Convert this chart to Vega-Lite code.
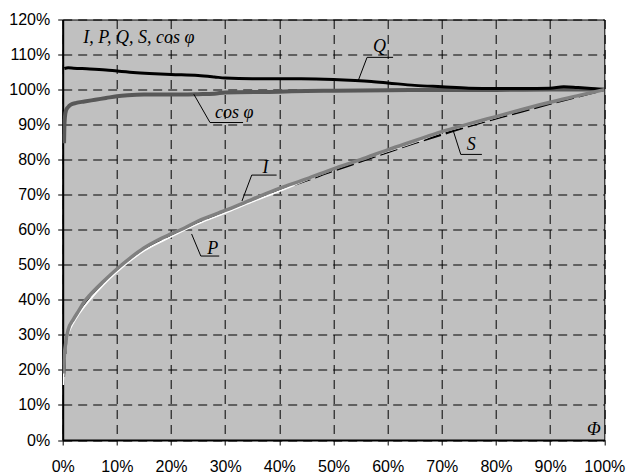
{
  "$schema": "https://vega.github.io/schema/vega-lite/v6.json",
  "autosize": {"type": "none"},
  "width": 541.6,
  "height": 420.5,
  "padding": {"left": 62.7, "top": 19.5, "right": 23.7, "bottom": 34},
  "config": {
    "view": {"fill": "#c0c0c0", "stroke": "#000000", "strokeWidth": 1},
    "axis": {
      "domainColor": "#000000", "domainWidth": 2,
      "tickColor": "#000000", "tickSize": 5, "tickWidth": 1,
      "gridColor": "#000000", "gridDash": [9, 6], "gridWidth": 1, "gridOpacity": 1,
      "labelFont": "Liberation Sans", "labelFontSize": 16, "labelColor": "#000000",
      "title": null
    }
  },
  "datasets": {
    "q": [
      {"x": 0.3, "y": 106.0}, {"x": 1, "y": 106.2}, {"x": 2, "y": 106.1}, {"x": 5, "y": 105.9},
      {"x": 8, "y": 105.6}, {"x": 10, "y": 105.3}, {"x": 13, "y": 104.9}, {"x": 16, "y": 104.6},
      {"x": 20, "y": 104.3}, {"x": 25, "y": 104.0}, {"x": 28, "y": 103.6}, {"x": 30, "y": 103.3},
      {"x": 35, "y": 103.1}, {"x": 40, "y": 103.1}, {"x": 44, "y": 103.1}, {"x": 50, "y": 102.9},
      {"x": 54, "y": 102.6}, {"x": 57, "y": 102.3}, {"x": 60, "y": 101.9}, {"x": 65, "y": 101.2},
      {"x": 70, "y": 100.8}, {"x": 75, "y": 100.4}, {"x": 80, "y": 100.3}, {"x": 85, "y": 100.3},
      {"x": 90, "y": 100.4}, {"x": 92.5, "y": 100.8}, {"x": 95, "y": 100.6}, {"x": 97, "y": 100.4},
      {"x": 100, "y": 100.0}
    ],
    "cos": [
      {"x": 0.25, "y": 84.7}, {"x": 0.3, "y": 89.0}, {"x": 0.4, "y": 92.0}, {"x": 0.6, "y": 94.0},
      {"x": 1, "y": 95.0}, {"x": 1.5, "y": 95.7}, {"x": 2.5, "y": 96.2}, {"x": 4, "y": 96.6},
      {"x": 6, "y": 97.1}, {"x": 8, "y": 97.6}, {"x": 10, "y": 98.1}, {"x": 12, "y": 98.4},
      {"x": 15, "y": 98.6}, {"x": 20, "y": 98.6}, {"x": 25, "y": 98.7}, {"x": 28, "y": 98.8},
      {"x": 30, "y": 99.2}, {"x": 40, "y": 99.4}, {"x": 45, "y": 99.6}, {"x": 50, "y": 99.7},
      {"x": 60, "y": 99.8}, {"x": 70, "y": 99.9}, {"x": 80, "y": 99.9}, {"x": 90, "y": 100.0},
      {"x": 100, "y": 100.0}
    ],
    "i": [
      {"x": 0.2, "y": 19.0}, {"x": 0.3, "y": 24.0}, {"x": 0.5, "y": 27.0}, {"x": 1, "y": 31.4},
      {"x": 2, "y": 34.5}, {"x": 3, "y": 37.0}, {"x": 4, "y": 39.5}, {"x": 5, "y": 41.3},
      {"x": 7.5, "y": 45.2}, {"x": 10, "y": 48.8}, {"x": 12.5, "y": 52.0}, {"x": 15, "y": 54.8},
      {"x": 17.5, "y": 57.0}, {"x": 20, "y": 58.8}, {"x": 22.5, "y": 60.5}, {"x": 25, "y": 62.5},
      {"x": 30, "y": 65.5}, {"x": 35, "y": 68.7}, {"x": 40, "y": 71.8}, {"x": 45, "y": 74.5},
      {"x": 50, "y": 77.4}, {"x": 55, "y": 80.0}, {"x": 60, "y": 82.8}, {"x": 65, "y": 85.4},
      {"x": 70, "y": 88.0}, {"x": 75, "y": 90.2}, {"x": 80, "y": 92.3}, {"x": 85, "y": 94.4},
      {"x": 90, "y": 96.4}, {"x": 95, "y": 98.2}, {"x": 100, "y": 100.0}
    ],
    "p": [
      {"x": 0.1, "y": 15.7}, {"x": 0.3, "y": 22.0}, {"x": 0.6, "y": 27.0}, {"x": 1, "y": 30.0},
      {"x": 2, "y": 33.5}, {"x": 3, "y": 36.0}, {"x": 5, "y": 40.0}, {"x": 7.5, "y": 44.3},
      {"x": 10, "y": 48.0}, {"x": 15, "y": 54.0}, {"x": 20, "y": 58.0}, {"x": 25, "y": 61.7},
      {"x": 30, "y": 64.8}, {"x": 35, "y": 68.0}, {"x": 40, "y": 71.0}, {"x": 45, "y": 74.2},
      {"x": 50, "y": 77.2}, {"x": 55, "y": 79.9}, {"x": 60, "y": 82.4}, {"x": 65, "y": 85.0},
      {"x": 70, "y": 87.8}, {"x": 75, "y": 89.9}, {"x": 80, "y": 92.1}, {"x": 85, "y": 94.3},
      {"x": 90, "y": 96.4}, {"x": 95, "y": 98.2}, {"x": 100, "y": 100.0}
    ],
    "s": [
      {"x": 0.2, "y": 18.0}, {"x": 0.5, "y": 26.0}, {"x": 1, "y": 31.0}, {"x": 2, "y": 34.3},
      {"x": 3, "y": 36.8}, {"x": 5, "y": 41.0}, {"x": 10, "y": 48.5}, {"x": 15, "y": 54.5},
      {"x": 20, "y": 58.5}, {"x": 25, "y": 62.2}, {"x": 30, "y": 65.3}, {"x": 35, "y": 68.4},
      {"x": 40, "y": 71.4}, {"x": 45, "y": 74.1}, {"x": 50, "y": 76.9}, {"x": 55, "y": 79.5},
      {"x": 60, "y": 82.2}, {"x": 65, "y": 84.8}, {"x": 70, "y": 87.2}, {"x": 75, "y": 89.6},
      {"x": 80, "y": 91.8}, {"x": 85, "y": 93.9}, {"x": 90, "y": 96.0}, {"x": 95, "y": 98.0},
      {"x": 100, "y": 100.0}
    ],
    "labels": [
      {"x": 3.8, "y": 113.2, "text": "I, P, Q, S, cos φ"},
      {"x": 57.3, "y": 110.8, "text": "Q"},
      {"x": 28.1, "y": 91.9, "text": "cos φ"},
      {"x": 36.9, "y": 76.3, "text": "I"},
      {"x": 26.7, "y": 53.2, "text": "P"},
      {"x": 74.6, "y": 82.8, "text": "S"},
      {"x": 96.8, "y": 1.4, "text": "Φ"}
    ],
    "leaders": [
      {"x": 54.6, "y": 102.7, "x2": 56.2, "y2": 109.2},
      {"x": 56.2, "y": 109.2, "x2": 61.0, "y2": 109.2},
      {"x": 24.2, "y": 98.7, "x2": 27.2, "y2": 90.6},
      {"x": 27.2, "y": 90.6, "x2": 33.3, "y2": 90.6},
      {"x": 72.1, "y": 88.3, "x2": 73.5, "y2": 81.5},
      {"x": 73.5, "y": 81.5, "x2": 77.4, "y2": 81.5},
      {"x": 33.1, "y": 68.2, "x2": 34.9, "y2": 75.6},
      {"x": 34.9, "y": 75.6, "x2": 39.5, "y2": 75.6},
      {"x": 23.8, "y": 58.8, "x2": 25.5, "y2": 52.5},
      {"x": 25.5, "y": 52.5, "x2": 28.9, "y2": 52.5}
    ]
  },
  "encoding": {
    "x": {
      "field": "x", "type": "quantitative",
      "scale": {"domain": [0, 100], "nice": false},
      "axis": {"values": [0, 10, 20, 30, 40, 50, 60, 70, 80, 90, 100], "labelExpr": "datum.value + '%'", "labelPadding": 13, "labelFlush": false}
    },
    "y": {
      "field": "y", "type": "quantitative",
      "scale": {"domain": [0, 120], "nice": false},
      "axis": {"values": [0, 10, 20, 30, 40, 50, 60, 70, 80, 90, 100, 110, 120], "labelExpr": "datum.value + '%'", "labelPadding": 8, "labelFlush": false}
    }
  },
  "layer": [
    {"data": {"name": "cos"}, "mark": {"type": "line", "color": "#585858", "strokeWidth": 4, "interpolate": "monotone", "clip": true}},
    {"data": {"name": "q"}, "mark": {"type": "line", "color": "#000000", "strokeWidth": 3, "interpolate": "monotone", "clip": true}},
    {"data": {"name": "s"}, "mark": {"type": "line", "color": "#000000", "strokeWidth": 2.5, "strokeDash": [18, 5], "interpolate": "monotone", "clip": true}},
    {"data": {"name": "p"}, "mark": {"type": "line", "color": "#ffffff", "strokeWidth": 1.8, "interpolate": "monotone", "clip": true}},
    {"data": {"name": "i"}, "mark": {"type": "line", "color": "#808080", "strokeWidth": 3.5, "interpolate": "monotone", "clip": true}},
    {"data": {"name": "leaders"}, "mark": {"type": "rule", "color": "#000000", "strokeWidth": 1},
     "encoding": {"x2": {"field": "x2"}, "y2": {"field": "y2"}}},
    {"data": {"name": "labels"}, "mark": {"type": "text", "font": "Liberation Serif", "fontStyle": "italic", "fontSize": 18, "align": "left", "baseline": "alphabetic", "color": "#000000"},
     "encoding": {"text": {"field": "text"}}}
  ]
}
